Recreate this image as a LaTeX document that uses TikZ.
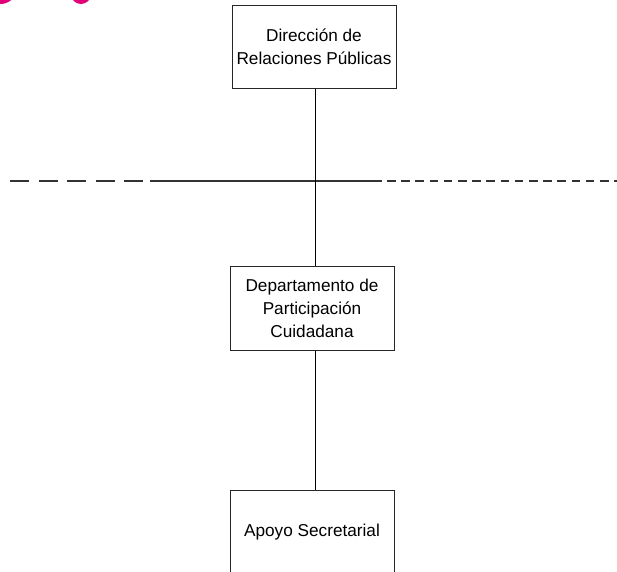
\documentclass[tikz,border=0pt]{standalone}
\usepackage{fontspec}
\setmainfont{Liberation Sans}
\definecolor{brandmagenta}{HTML}{E2007A}
\begin{document}
\begin{tikzpicture}[x=1pt,y=-1pt,
  unit/.style={draw=black!85,line width=1pt,rectangle,minimum width=164pt,
    minimum height=84pt,align=center,inner sep=0pt,
    font=\fontsize{17.2}{23}\selectfont},
  link/.style={line width=1pt,black},
  staffline/.style={line width=1.2pt,black!80}]
\useasboundingbox (0,0) rectangle (617,571);
\clip (0,0) rectangle (617,571);
\fill[white] (0,0) rectangle (617,571);

% logo remnants along the top edge
\fill[brandmagenta] (0,-8) ellipse [x radius=15, y radius=12];
\fill[brandmagenta] (81,-6) ellipse [x radius=10, y radius=10];

% units
\node[unit,minimum height=83pt] (dir) at (314,46.5) {Dirección de\\Relaciones Públicas};
\node[unit] (dep) at (312,308) {Departamento de\\Participación\\Cuidadana};
\node[unit] (apo) at (312,532) {Apoyo Secretarial};

% staff line
\coordinate (sl0) at (10,181);
\coordinate (sl1) at (146,181);
\coordinate (sl2) at (150,181);
\coordinate (sl3) at (382,181);
\coordinate (sl4) at (387,181);
\coordinate (sl5) at (617,181);
\draw[staffline,dash pattern=on 19pt off 9.5pt] (sl0) -- (sl1);
\draw[staffline] (sl2) -- (sl3);
\draw[staffline,dash pattern=on 8.5pt off 5.7pt] (sl4) -- (sl5);

% hierarchy connectors
\coordinate (axis) at (315,0);
\draw[link] (dir.south -| axis) -- (dep.north -| axis);
\draw[link] (dep.south -| axis) -- (apo.north -| axis);
\end{tikzpicture}
\end{document}
